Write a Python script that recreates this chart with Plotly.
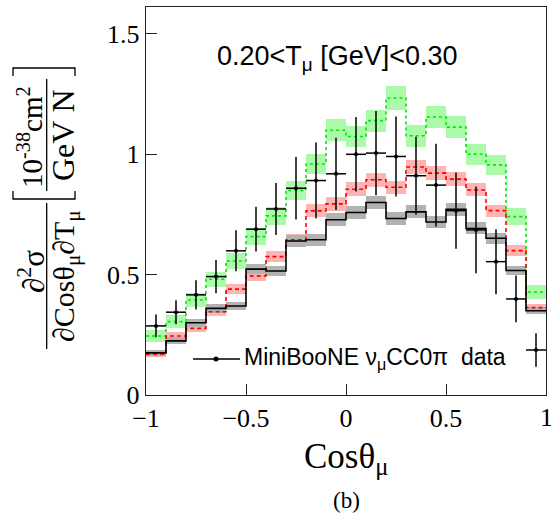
import plotly.graph_objects as go

# ---------------- data ----------------
bin_edges = [-1.0, -0.9, -0.8, -0.7, -0.6, -0.5, -0.4, -0.3, -0.2, -0.1, 0.0,
             0.1, 0.2, 0.3, 0.4, 0.5, 0.6, 0.7, 0.8, 0.9, 1.0]

black_vals = [0.175, 0.225, 0.300, 0.360, 0.370, 0.523, 0.515, 0.640, 0.645, 0.728,
              0.758, 0.800, 0.733, 0.761, 0.719, 0.772, 0.692, 0.651, 0.517, 0.350]
black_err = [0.012, 0.014, 0.016, 0.018, 0.018, 0.022, 0.022, 0.025, 0.025, 0.027,
             0.027, 0.028, 0.027, 0.027, 0.026, 0.027, 0.025, 0.024, 0.020, 0.015]

red_vals = [0.170, 0.245, 0.277, 0.346, 0.440, 0.495, 0.575, 0.645, 0.765, 0.794,
            0.855, 0.894, 0.863, 0.947, 0.922, 0.897, 0.852, 0.766, 0.600, 0.363]
red_err = [0.012, 0.015, 0.016, 0.018, 0.020, 0.022, 0.023, 0.025, 0.027, 0.028,
           0.028, 0.029, 0.028, 0.029, 0.029, 0.028, 0.027, 0.025, 0.022, 0.015]

green_vals = [0.245, 0.305, 0.395, 0.481, 0.557, 0.658, 0.744, 0.850, 0.960, 1.100,
              1.074, 1.140, 1.234, 1.077, 1.155, 1.113, 1.000, 0.956, 0.741, 0.428]
green_err = [0.026, 0.028, 0.030, 0.032, 0.034, 0.036, 0.038, 0.040, 0.043, 0.045,
             0.045, 0.046, 0.048, 0.045, 0.046, 0.045, 0.043, 0.041, 0.035, 0.030]

data_vals = [0.287, 0.344, 0.416, 0.492, 0.599, 0.689, 0.773, 0.859, 0.891, 0.919,
             1.000, 1.005, 0.991, 0.911, 0.872, 0.766, 0.686, 0.554, 0.399, 0.187]
data_err = [0.047, 0.050, 0.061, 0.069, 0.085, 0.093, 0.108, 0.130, 0.158, 0.150,
            0.155, 0.175, 0.166, 0.162, 0.172, 0.158, 0.180, 0.135, 0.097, 0.070]

x_ticks = [-1, -0.5, 0, 0.5, 1]
x_ticktext = ["\u22121", "\u22120.5", "0", "0.5", "1"]
y_ticks = [0, 0.5, 1, 1.5]
y_ticktext = ["0", "0.5", "1", "1.5"]

title_text = "0.20&lt;T<sub>\u03bc</sub> [GeV]&lt;0.30"
legend_text = "MiniBooNE \u03bd<sub>\u03bc</sub>CC0\u03c0\u00a0 data"

# ---------------- geometry ----------------
W, H = 551, 520
ML, MR, MT, MB = 146, 5, 7, 125
PW, PH = W - ML - MR, H - MT - MB


def px(x):
    return (x - ML) / PW


def py(y):
    return (H - MB - y) / PH


centers = [(bin_edges[i] + bin_edges[i + 1]) / 2 for i in range(len(bin_edges) - 1)]
widths = [bin_edges[i + 1] - bin_edges[i] for i in range(len(bin_edges) - 1)]

fig = go.Figure()


def add_band(vals, errs, color):
    fig.add_trace(go.Bar(
        x=centers, y=[2 * e for e in errs], base=[v - e for v, e in zip(vals, errs)],
        width=widths, marker=dict(color=color, line=dict(width=0)),
        showlegend=False, hoverinfo="skip"))


def add_step(vals, color, dash):
    fig.add_trace(go.Scatter(
        x=bin_edges, y=vals + [vals[-1]], mode="lines", line_shape="hv",
        line=dict(color=color, width=1.6, dash=dash), showlegend=False))


add_band(green_vals, green_err, "rgb(170,250,170)")
add_band(red_vals, red_err, "rgb(255,180,180)")
add_band(black_vals, black_err, "rgb(178,178,178)")
add_step(green_vals, "rgb(0,230,0)", "dot")
add_step(red_vals, "rgb(255,0,0)", "4px,3px")
add_step(black_vals, "black", "solid")

fig.add_trace(go.Scatter(
    x=centers, y=data_vals, mode="markers",
    marker=dict(color="black", size=4),
    error_y=dict(type="data", array=data_err, color="black", thickness=1.5, width=0),
    error_x=dict(type="data", array=[w / 2 for w in widths], color="black", thickness=1.5, width=0),
    showlegend=False))

serif = "Liberation Serif, Times New Roman, serif"
sans = "Liberation Sans, Arial, sans-serif"

# the last x tick label sits on the page edge; draw it as an annotation so it is not dropped
axis_ticktext = x_ticktext[:-1] + [""]

fig.update_layout(
    width=W, height=H,
    margin=dict(l=ML, r=MR, t=MT, b=MB, autoexpand=False),
    paper_bgcolor="white", plot_bgcolor="white",
    barmode="overlay", bargap=0,
    showlegend=False,
    xaxis=dict(range=[-1, 1], tickvals=x_ticks, ticktext=axis_ticktext,
               ticks="inside", ticklen=11, tickwidth=1.2, tickcolor="#222",
               showline=True, linecolor="#222", linewidth=1.4, mirror=True,
               showgrid=False, zeroline=False, automargin=False,
               tickfont=dict(family=serif, size=26, color="black")),
    yaxis=dict(range=[0, 1.612], tickvals=y_ticks, ticktext=y_ticktext,
               ticks="inside", ticklen=11, tickwidth=1.2, tickcolor="#222",
               showline=True, linecolor="#222", linewidth=1.4, mirror=True,
               showgrid=False, zeroline=False, automargin=False,
               tickfont=dict(family=serif, size=26, color="black")),
)

ann = []
ann.append(dict(x=x_ticks[-1], y=py(417), xref="x", yref="paper", text=x_ticktext[-1],
                showarrow=False, xanchor="center", yanchor="middle",
                font=dict(family=serif, size=26, color="black")))
ann.append(dict(x=px(215), y=py(58), xref="paper", yref="paper", text=title_text,
                showarrow=False, xanchor="left", yanchor="middle",
                font=dict(family=sans, size=27, color="black")))
ann.append(dict(x=px(242), y=py(358), xref="paper", yref="paper", text=legend_text,
                showarrow=False, xanchor="left", yanchor="middle",
                font=dict(family=sans, size=23, color="black")))
ann.append(dict(x=px(346), y=py(458), xref="paper", yref="paper", text="Cos\u03b8<sub>\u03bc</sub>",
                showarrow=False, xanchor="center", yanchor="middle",
                font=dict(family=serif, size=35, color="black")))
ann.append(dict(x=px(346), y=py(501), xref="paper", yref="paper", text="(b)",
                showarrow=False, xanchor="center", yanchor="middle",
                font=dict(family=serif, size=23, color="black")))
# y-axis label: fraction
ann.append(dict(x=px(31), y=py(272), xref="paper", yref="paper", text="\u2202<sup>2</sup>\u03c3",
                showarrow=False, textangle=-90, xanchor="center", yanchor="middle",
                font=dict(family=serif, size=31, color="black")))
ann.append(dict(x=px(66), y=py(276), xref="paper", yref="paper",
                text="\u2202Cos\u03b8<sub>\u03bc</sub>\u2202T<sub>\u03bc</sub>",
                showarrow=False, textangle=-90, xanchor="center", yanchor="middle",
                font=dict(family=serif, size=30, color="black")))
ann.append(dict(x=px(30), y=py(137), xref="paper", yref="paper",
                text="10<sup>-38</sup>cm<sup>2</sup>",
                showarrow=False, textangle=-90, xanchor="center", yanchor="middle",
                font=dict(family=serif, size=29, color="black")))
ann.append(dict(x=px(63), y=py(135), xref="paper", yref="paper", text="GeV\u00a0N",
                showarrow=False, textangle=-90, xanchor="center", yanchor="middle",
                font=dict(family=serif, size=32, color="black")))

shapes = []
line_style = dict(color="black", width=1.3)
# main fraction bar
shapes.append(dict(type="line", xref="paper", yref="paper",
                   x0=px(46.7), x1=px(46.7), y0=py(203), y1=py(349), line=line_style))
# inner fraction bar
shapes.append(dict(type="line", xref="paper", yref="paper",
                   x0=px(46.7), x1=px(46.7), y0=py(79), y1=py(191), line=line_style))
# brackets
shapes.append(dict(type="path", xref="paper", yref="paper",
                   path=f"M {px(13)} {py(191)} L {px(13)} {py(199)} L {px(75)} {py(199)} L {px(75)} {py(191)}",
                   line=line_style))
shapes.append(dict(type="path", xref="paper", yref="paper",
                   path=f"M {px(13)} {py(76)} L {px(13)} {py(68)} L {px(75)} {py(68)} L {px(75)} {py(76)}",
                   line=line_style))
# legend symbol
shapes.append(dict(type="line", xref="paper", yref="paper",
                   x0=px(193), x1=px(240), y0=py(359), y1=py(359), line=dict(color="black", width=1.3)))
shapes.append(dict(type="circle", xref="paper", yref="paper",
                   x0=px(213.5), x1=px(218.5), y0=py(361.5), y1=py(356.5),
                   fillcolor="black", line=dict(color="black", width=0)))

fig.update_layout(annotations=ann, shapes=shapes)

fig.write_html("out.html")
